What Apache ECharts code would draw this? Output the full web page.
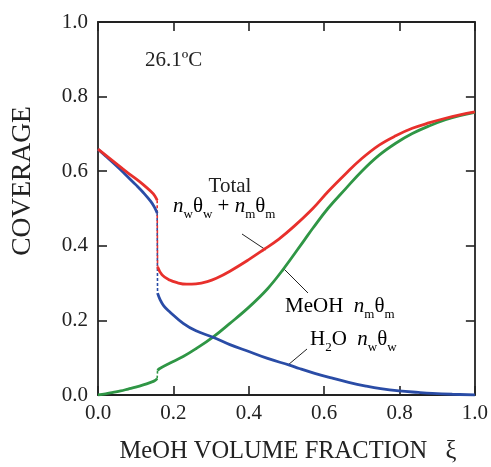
<!DOCTYPE html>
<html>
<head>
<meta charset="utf-8">
<script src="https://cdn.jsdelivr.net/npm/echarts@6/dist/echarts.min.js"></script>
<style>
  html, body { margin: 0; padding: 0; background: #fff; }
  #chart { width: 491px; height: 467px; }
</style>
</head>
<body>
<div id="chart"></div>
<script>
// Surface coverage vs. methanol volume fraction at 26.1 ºC.
// Left branch (water-rich) runs up to the transition, right branch after it.
const xLeft        = [0, 0.02, 0.04, 0.06, 0.08, 0.10, 0.12, 0.14, 0.15, 0.157];
const totalLeft    = [0.659, 0.643, 0.627, 0.611, 0.595, 0.580, 0.564, 0.546, 0.535, 0.522];
const waterLeft    = [0.659, 0.641, 0.623, 0.604, 0.584, 0.564, 0.543, 0.519, 0.503, 0.488];
const methanolLeft = [0, 0.003, 0.007, 0.011, 0.016, 0.021, 0.027, 0.034, 0.038, 0.044];

const xTotalRight     = [0.158, 0.17, 0.19, 0.21, 0.235, 0.26, 0.29, 0.314, 0.35, 0.40, 0.44, 0.48, 0.52, 0.57, 0.61, 0.658, 0.70, 0.746, 0.79, 0.834, 0.88, 0.922, 0.96, 1.0];
const totalRight      = [0.344, 0.322, 0.308, 0.301, 0.297, 0.298, 0.304, 0.313, 0.332, 0.363, 0.390, 0.418, 0.452, 0.500, 0.545, 0.594, 0.634, 0.670, 0.695, 0.715, 0.730, 0.742, 0.751, 0.759];

const xMethanolRight  = [0.158, 0.164, 0.19, 0.226, 0.26, 0.305, 0.35, 0.402, 0.45, 0.49, 0.548, 0.57, 0.61, 0.658, 0.70, 0.746, 0.79, 0.834, 0.88, 0.922, 0.96, 1.0];
const methanolRight   = [0.066, 0.071, 0.085, 0.103, 0.124, 0.155, 0.192, 0.237, 0.285, 0.335, 0.416, 0.447, 0.500, 0.554, 0.600, 0.643, 0.675, 0.701, 0.722, 0.738, 0.749, 0.758];

const xWaterRight     = [0.158, 0.165, 0.175, 0.19, 0.226, 0.26, 0.305, 0.35, 0.402, 0.45, 0.508, 0.534, 0.575, 0.622, 0.665, 0.711, 0.75, 0.799, 0.85, 0.887, 0.94, 1.0];
const waterRight      = [0.273, 0.255, 0.238, 0.223, 0.192, 0.172, 0.155, 0.135, 0.116, 0.098, 0.080, 0.071, 0.058, 0.045, 0.034, 0.024, 0.017, 0.011, 0.007, 0.0045, 0.002, 0];

const RED = '#e8302c';
const BLUE = '#2a4ca6';
const GREEN = '#2f9645';
const SERIF = '"Liberation Serif", "Times New Roman", serif';

const pairs = (xs, ys) => xs.map((x, i) => [x, ys[i]]);
const jump = (xsA, ysA, xsB, ysB) => [[xsA[xsA.length - 1], ysA[ysA.length - 1]], [xsB[0], ysB[0]]];

function curve(name, data, color) {
  return {
    name, type: 'line', data, smooth: 0.4,
    symbol: 'none', lineStyle: { color, width: 2.8 }, z: 3
  };
}
function dashed(name, data, color) {
  return {
    name, type: 'line', data, symbol: 'none',
    lineStyle: { color, width: 1.6, type: [3, 2] }, z: 2
  };
}

const tickLabel = { color: '#222', fontFamily: SERIF, fontSize: 21 };

const frameAxis = {
  min: 0, max: 1, interval: 0.2,
  axisLine: { show: true, onZero: false, lineStyle: { color: '#222', width: 1.8 } },
  axisTick: { show: true, inside: true, length: 9, lineStyle: { color: '#222', width: 1.6 } },
  splitLine: { show: false }
};

const chart = echarts.init(document.getElementById('chart'), null, { renderer: 'canvas' });

const sub = { fontFamily: SERIF, fontSize: 13, verticalAlign: 'bottom', color: '#222' };
const big = { fontFamily: SERIF, fontSize: 21, verticalAlign: 'bottom', padding: [0, 0, 4, 0], color: '#222' };
const bigItalic = Object.assign({}, big, { fontStyle: 'italic' });
const richText = { i: bigItalic, r: big, s: sub };

chart.setOption({
  animation: false,
  backgroundColor: '#fff',
  grid: { left: 98, right: 15, top: 22, bottom: 72 },
  xAxis: [
    Object.assign({ type: 'value', position: 'bottom',
      axisLabel: Object.assign({ margin: 8, formatter: v => v.toFixed(1) }, tickLabel) }, frameAxis),
    Object.assign({ type: 'value', position: 'top', axisLabel: { show: false } }, frameAxis)
  ],
  yAxis: [
    Object.assign({ type: 'value', position: 'left',
      axisLabel: Object.assign({ margin: 10, formatter: v => v.toFixed(1) }, tickLabel) }, frameAxis),
    Object.assign({ type: 'value', position: 'right', axisLabel: { show: false } }, frameAxis)
  ],
  series: [
    curve('MeOH left', pairs(xLeft, methanolLeft), GREEN),
    curve('MeOH right', pairs(xMethanolRight, methanolRight), GREEN),
    dashed('MeOH jump', jump(xLeft, methanolLeft, xMethanolRight, methanolRight), GREEN),
    curve('H2O left', pairs(xLeft, waterLeft), BLUE),
    curve('H2O right', pairs(xWaterRight, waterRight), BLUE),
    dashed('H2O jump', jump(xLeft, waterLeft, xWaterRight, waterRight), BLUE),
    curve('Total left', pairs(xLeft, totalLeft), RED),
    curve('Total right', pairs(xTotalRight, totalRight), RED),
    dashed('Total jump', jump(xLeft, totalLeft, xTotalRight, totalRight), RED)
  ],
  graphic: [
    { type: 'text', left: 145, top: 50, style: { text: '26.1ºC', font: '21px ' + SERIF, fill: '#222' } },
    { type: 'text', x: 230, y: 186, style: { text: 'Total', font: '21px ' + SERIF, fill: '#222', align: 'center', verticalAlign: 'middle' } },
    { type: 'text', x: 173, y: 196, style: {
        text: '{i|n}{s|w}{r|θ}{s|w}{r| + }{i|n}{s|m}{r|θ}{s|m}', rich: richText } },
    { type: 'text', x: 285, y: 296, style: {
        text: '{r|MeOH  }{i|n}{s|m}{r|θ}{s|m}', rich: richText } },
    { type: 'text', x: 310, y: 329, style: {
        text: '{r|H}{s|2}{r|O  }{i|n}{s|w}{r|θ}{s|w}', rich: richText } },
    { type: 'line', shape: { x1: 242, y1: 234, x2: 266, y2: 250 }, style: { stroke: '#222', lineWidth: 1 } },
    { type: 'line', shape: { x1: 284, y1: 269, x2: 308, y2: 293 }, style: { stroke: '#222', lineWidth: 1 } },
    { type: 'line', shape: { x1: 288, y1: 365, x2: 307, y2: 349 }, style: { stroke: '#222', lineWidth: 1 } },
    { type: 'text', x: 288, y: 452, style: {
        text: 'MeOH VOLUME FRACTION   ξ', font: '24.5px ' + SERIF, fill: '#222', align: 'center', verticalAlign: 'middle' } },
    { type: 'text', x: 23, y: 181, rotation: Math.PI / 2, style: {
        text: 'COVERAGE', font: '27.5px ' + SERIF, fill: '#222', align: 'center', verticalAlign: 'middle' } }
  ]
});
</script>
</body>
</html>
